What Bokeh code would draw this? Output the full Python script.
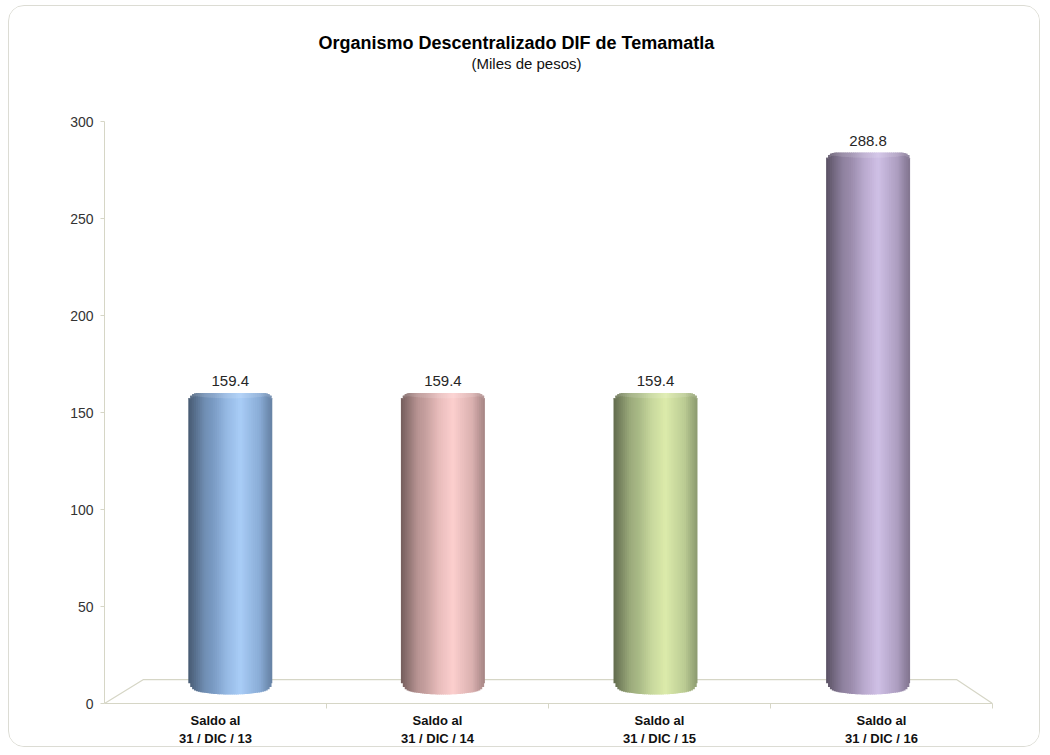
import numpy as np
from bokeh.plotting import figure
from bokeh.models import Range1d, FixedTicker, Title, ColumnDataSource
from bokeh.core.properties import value
from bokeh.embed import file_html
from bokeh.resources import INLINE

# ---------------- data ----------------
categories = ["Saldo al\n31 / DIC / 13", "Saldo al\n31 / DIC / 14",
              "Saldo al\n31 / DIC / 15", "Saldo al\n31 / DIC / 16"]
values = [159.4, 159.4, 159.4, 288.8]
value_labels = ["159.4", "159.4", "159.4", "288.8"]
y_ticks = [0, 50, 100, 150, 200, 250, 300]
title_text = "Organismo Descentralizado DIF de Temamatla"
subtitle_text = "(Miles de pesos)"

# ---------------- style ----------------
base_colors = ["#8db3e2", "#e6b9b8", "#c3d69b", "#b3a2c7"]
highlight_colors = ["#a9cdf7", "#fccfce", "#dcebab", "#cfc0e6"]
FONT = "Liberation Sans"
AXIS_COL = "#d6d6c6"

# geometry of the pseudo-3D "mid depth" plane where the cylinders sit
BAR_PX_PER_X = 212.6      # px per category in the bar plane
BAR_PX_PER_Y = 1.862      # px per unit in the bar plane
BAR_W = 0.395             # cylinder width (category units)
FRAME_W, FRAME_H = 888, 583
bx0 = -19.5 / BAR_PX_PER_X
by0 = -14.0 / BAR_PX_PER_Y

p = figure(width=1032, height=742, output_backend="svg", toolbar_location=None,
           x_range=Range1d(0, len(categories)), y_range=Range1d(0, 300),
           min_border_left=95, min_border_right=49, min_border_top=115, min_border_bottom=44)
p.extra_x_ranges = {"bar": Range1d(bx0, bx0 + FRAME_W / BAR_PX_PER_X)}
p.extra_y_ranges = {"bar": Range1d(by0, by0 + FRAME_H / BAR_PX_PER_Y)}
p.styles = {"border": "1px solid #dcdcd4", "border-radius": "16px", "overflow": "hidden",
            "margin-left": "8px", "margin-top": "5px"}
p.outline_line_color = None
p.xgrid.visible = False
p.ygrid.visible = False
p.background_fill_color = "white"
p.border_fill_color = "white"

# ---- floor (3D base) ----
n = len(categories)
dx_l = 39 / (FRAME_W / n)
dx_r = 36 / (FRAME_W / n)
dy = 24 / (FRAME_H / 300)
p.line([0, dx_l, n - dx_r, n], [0, dy, dy, 0], line_color=AXIS_COL, line_width=1.2)

# ---- cylinders as shaded strips ----
def hex2rgb(h):
    h = h.lstrip("#")
    return np.array([int(h[i:i + 2], 16) for i in (0, 2, 4)], dtype=float)

def rgb2hex(c):
    c = np.clip(np.round(c), 0, 255).astype(int)
    return "#%02x%02x%02x" % tuple(c)

m_t = [0.0, 0.2, 0.45, 0.62, 0.85, 1.0]
m_v = [0.50, 0.80, 0.96, 1.0, 0.92, 0.72]
N = 44
CAP_PX = 5.0
left, right, top, bottom, colors = [], [], [], [], []
cl, cr, ct, cb, ccol = [], [], [], [], []
for i, v in enumerate(values):
    base = hex2rgb(base_colors[i])
    hi = hex2rgb(highlight_colors[i])
    cx = i + 0.5
    x0 = cx - BAR_W / 2
    wpx = BAR_W * BAR_PX_PER_X
    r = 9.0
    for k in range(N):
        t = (k + 0.5) / N
        h = max(0.0, 1 - abs(t - 0.62) / 0.33)
        m = np.interp(t, m_t, m_v)
        col = (base * (1 - h) + hi * h) * m
        d = min(t, 1 - t) * wpx
        cut = r - np.sqrt(max(r * r - (r - d) ** 2, 0)) if d < r else 0.0
        ell = 8.0 * np.sqrt(max(1 - (2 * t - 1) ** 2, 0))
        l = x0 + k * BAR_W / N
        rr = x0 + (k + 1) * BAR_W / N
        if k < N - 1:
            rr += 0.6 * BAR_W / N
        tp = v - cut / BAR_PX_PER_Y
        left.append(l)
        right.append(rr)
        top.append(tp)
        bottom.append(0 - (ell - 3 - cut) / BAR_PX_PER_Y)
        colors.append(rgb2hex(col))
        # slightly lighter top cap band
        cl.append(l)
        cr.append(rr)
        ct.append(tp)
        cb.append(tp - CAP_PX * np.sqrt(max(1 - (2 * t - 1) ** 2, 0)) / BAR_PX_PER_Y)
        ccol.append(rgb2hex(col * 0.88 + 255 * 0.12))

src = ColumnDataSource(dict(left=left, right=right, top=top, bottom=bottom, color=colors))
p.quad(left="left", right="right", top="top", bottom="bottom", fill_color="color",
       line_color=None, source=src, x_range_name="bar", y_range_name="bar")
cap = ColumnDataSource(dict(left=cl, right=cr, top=ct, bottom=cb, color=ccol))
p.quad(left="left", right="right", top="top", bottom="bottom", fill_color="color",
       line_color=None, source=cap, x_range_name="bar", y_range_name="bar")

# ---- value labels ----
lab = ColumnDataSource(dict(x=[i + 0.5 for i in range(n)], y=values, t=value_labels))
p.text(x="x", y="y", text="t", source=lab, x_range_name="bar", y_range_name="bar",
       text_align="center", text_baseline="bottom", y_offset=-7,
       text_font=value(FONT), text_font_size="15px", text_color="#262626")

# ---- axes ----
xa = p.xaxis[0]
xa.ticker = FixedTicker(ticks=[i + 0.5 for i in range(n)], minor_ticks=[1, 2, 3, 4])
xa.major_label_overrides = {i + 0.5: c for i, c in enumerate(categories)}
xa.major_tick_out = 0
xa.major_tick_in = 0
xa.minor_tick_out = 5
xa.minor_tick_in = 0
xa.minor_tick_line_color = AXIS_COL
xa.axis_line_color = AXIS_COL
xa.major_label_text_font = FONT
xa.major_label_text_font_style = "bold"
xa.major_label_text_font_size = "13px"
xa.major_label_text_color = "#111111"
xa.major_label_standoff = 4

ya = p.yaxis[0]
ya.ticker = FixedTicker(ticks=y_ticks, minor_ticks=[])
ya.major_tick_out = 4
ya.major_tick_in = 0
ya.major_tick_line_color = AXIS_COL
ya.axis_line_color = AXIS_COL
ya.major_label_text_font = FONT
ya.major_label_text_font_size = "14px"
ya.major_label_text_color = "#333333"
ya.major_label_standoff = 7

# ---- title / subtitle (nearest to frame first) ----
has_standoff = "standoff" in Title.properties()
def so(v):
    return {"standoff": v} if has_standoff else {}

p.add_layout(Title(text=" ", text_font_size="12px", align="center", **so(34)), "above")
p.add_layout(Title(text=subtitle_text, text_font=FONT, text_font_size="15px",
                   text_font_style="normal", align="left", offset=367,
                   text_color="#111111", **so(0)), "above")
p.add_layout(Title(text=title_text, text_font=FONT, text_font_size="18px",
                   text_font_style="bold", align="left", offset=214,
                   text_color="#000000", **so(0)), "above")

open("out.html", "w").write(file_html(p, INLINE))
